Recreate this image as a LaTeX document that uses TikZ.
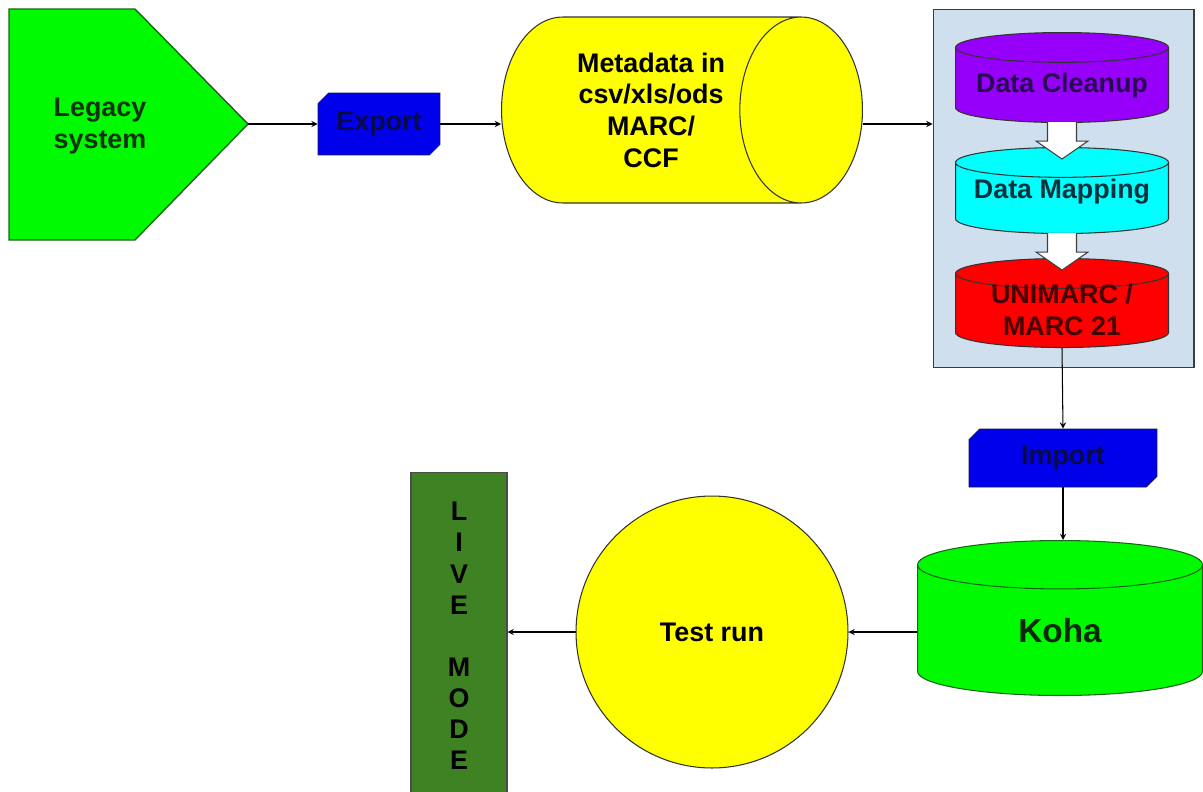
\documentclass[tikz,border=0pt]{standalone}
\usepackage{fontspec}
\setmainfont{Liberation Sans}
\usepackage{tikz}
\usetikzlibrary{shapes.geometric,shapes.misc,calc}

\definecolor{legacyfill}{RGB}{0,250,0}
\definecolor{legacyedge}{RGB}{25,100,25}
\definecolor{legacytext}{RGB}{15,50,15}
\definecolor{procblue}{RGB}{0,0,235}
\definecolor{procedge}{RGB}{20,20,90}
\definecolor{proctext}{RGB}{10,10,70}
\definecolor{metayellow}{RGB}{255,255,0}
\definecolor{stagefill}{RGB}{207,223,238}
\definecolor{stageedge}{RGB}{60,60,60}
\definecolor{cleanpurple}{RGB}{150,0,250}
\definecolor{cleantext}{RGB}{40,10,80}
\definecolor{mapcyan}{RGB}{0,255,255}
\definecolor{maptext}{RGB}{10,50,60}
\definecolor{unired}{RGB}{255,0,0}
\definecolor{unitext}{RGB}{70,0,0}
\definecolor{kohagreen}{RGB}{0,250,0}
\definecolor{kohatext}{RGB}{10,40,10}
\definecolor{livegreen}{RGB}{62,130,35}

\tikzset{
  every node/.style={font=\fontsize{15.3}{18}\selectfont\bfseries},
  flow/.style={-stealth, line width=0.6pt},
  procbox/.style={chamfered rectangle,
    chamfered rectangle corners={north west,south east},
    chamfered rectangle xsep=3pt, chamfered rectangle ysep=3pt,
    fill=procblue, draw=procedge, text=proctext, inner sep=0pt},
  drum/.style={cylinder, draw=black!80, line width=0.6pt, inner sep=0pt, align=center},
  stagedrum/.style={drum, shape border rotate=90, aspect=0.14, minimum width=4.26cm, anchor=north},
  hollow/.style={draw=black!75, fill=white, line width=0.6pt, line join=miter},
}

\begin{document}
\begin{tikzpicture}[x=0.02cm,y=-0.02cm]
\useasboundingbox (0,0) rectangle (1203,791);

% source system
\filldraw[fill=legacyfill, draw=legacyedge, line width=0.8pt]
  (9,9) -- (135,9) -- (248,124) -- (135,240) -- (9,240) -- cycle;
\node[text=legacytext, align=center] (legacy) at (100,126) {Legacy\\system};
\coordinate (legacytip) at (248,124);

\node[procbox, minimum width=2.44cm, minimum height=1.24cm] (export) at (379,124) {Export};

% width = diameter, height = length along the axis
\node[drum, aspect=1.07, fill=metayellow, minimum width=3.72cm, minimum height=7.22cm, anchor=west]
  (meta) at (501,110) {Metadata in\\csv/xls/ods\\MARC/\\CCF};

% conversion stage
\node[draw=stageedge, fill=stagefill, line width=0.6pt, minimum width=5.22cm, minimum height=7.18cm]
  (stage) at (1063.5,188.5) {};
\node[stagedrum, fill=cleanpurple, minimum height=1.8cm] (clean) at (1062,32) {\rule{4.26cm}{0pt}};
\node[stagedrum, fill=mapcyan, minimum height=1.72cm] (map) at (1062,147) {\rule{4.26cm}{0pt}};
\node[stagedrum, fill=unired, minimum height=1.78cm] (unimarc) at (1062,258) {\rule{4.26cm}{0pt}};

\foreach \a in {clean,map}
  \draw[hollow] ($(\a.south)+(-14.5,-1)$) -- ++(0,19) -- ++(-11.5,0)
    -- ($(\a.south)+(0,36)$) -- ($(\a.south)+(26,18)$) -- ++(-11.5,0) -- ++(0,-19);

\node[text=cleantext] (cleantxt) at (1062,86) {Data Cleanup};
\node[text=maptext] (maptxt) at (1062,192) {Data Mapping};
\node[text=unitext, align=center] (unitxt) at (1062,310) {UNIMARC /\\MARC 21};

\node[procbox, minimum width=3.76cm, minimum height=1.16cm] (import) at (1063,458) {Import};

\node[drum, shape border rotate=90, aspect=0.58, fill=kohagreen, draw=legacyedge, text=kohatext,
  font=\fontsize{19}{22}\selectfont\bfseries, minimum width=5.7cm, minimum height=3.1cm, anchor=north]
  (koha) at (1060,540) {Koha};

\node[circle, fill=metayellow, draw=black!80, line width=0.6pt, minimum size=5.44cm, inner sep=0pt]
  (test) at (712,632) {Test run};

\node[draw=black!70, fill=livegreen, line width=0.6pt, minimum width=1.92cm, minimum height=6.56cm,
  align=center, font=\fontsize{15.3}{17.7}\selectfont\bfseries]
  (live) at (459,636) {L\\I\\V\\E\\[17.7pt]M\\O\\D\\E};

% connectors
\draw[flow] (legacytip) -- (export.west);
\draw[flow] (export.east) -- (export -| meta.west);
\draw[flow] (export -| meta.east) -- (export -| stage.west);
\draw[flow] (unimarc.south) -- (import.north);
\draw[flow] (import.south) -- (import.south |- koha.north);
\draw[flow] (test -| koha.west) -- (test.east);
\draw[flow] (test.west) -- (test.west -| live.east);
\end{tikzpicture}
\end{document}
